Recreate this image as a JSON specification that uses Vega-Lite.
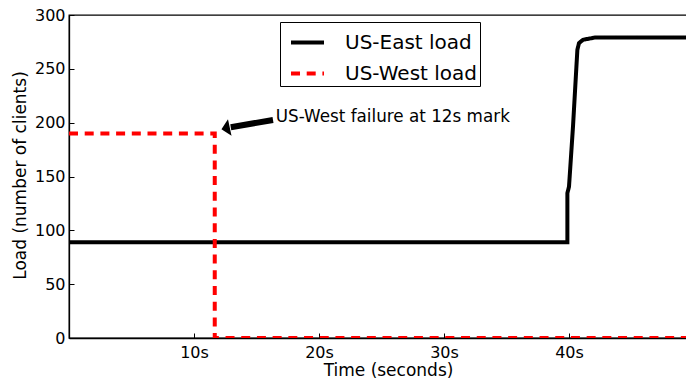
{
  "$schema": "https://vega.github.io/schema/vega-lite/v6.json",
  "width": 618,
  "height": 323,
  "autosize": "none",
  "padding": {"left": 69, "top": 15, "right": 0, "bottom": 43},
  "background": "white",
  "config": {
    "font": "DejaVu Sans",
    "view": {"stroke": "black", "strokeWidth": 1.3},
    "axis": {
      "grid": false,
      "domainColor": "black",
      "domainWidth": 1.3,
      "tickColor": "black",
      "tickSize": -5,
      "tickWidth": 1,
      "labelColor": "black",
      "labelFontSize": 16,
      "labelFont": "DejaVu Sans",
      "titleColor": "black",
      "titleFontSize": 17,
      "titleFontWeight": "normal",
      "titleFont": "DejaVu Sans",
      "zindex": 1
    }
  },
  "datasets": {
    "series": [
      {"series": "US-East load", "i": 0, "time": 0, "load": 89},
      {"series": "US-East load", "i": 1, "time": 39.87, "load": 89},
      {"series": "US-East load", "i": 2, "time": 39.87, "load": 134.5},
      {"series": "US-East load", "i": 3, "time": 40.0, "load": 140.6},
      {"series": "US-East load", "i": 4, "time": 40.32, "load": 196.4},
      {"series": "US-East load", "i": 5, "time": 40.67, "load": 267.7},
      {"series": "US-East load", "i": 6, "time": 40.8, "load": 273.9},
      {"series": "US-East load", "i": 7, "time": 41.12, "load": 277},
      {"series": "US-East load", "i": 8, "time": 42.05, "load": 279},
      {"series": "US-East load", "i": 9, "time": 50, "load": 279},
      {"series": "US-West load", "i": 0, "time": 0, "load": 190},
      {"series": "US-West load", "i": 1, "time": 11.66, "load": 190},
      {"series": "US-West load", "i": 2, "time": 11.66, "load": 0},
      {"series": "US-West load", "i": 3, "time": 50, "load": 0}
    ],
    "note": [{"x": 16.54, "y": 201, "text": "US-West failure at 12s mark"}],
    "arrow": [{"x": 16.32, "y": 202.5, "x2": 12.94, "y2": 195.8}],
    "head": [{"x": 12.86, "y": 195.5}]
  },
  "layer": [
    {
      "data": {"name": "series"},
      "mark": {"type": "line", "strokeWidth": 4, "clip": true, "strokeCap": "butt", "strokeJoin": "miter"},
      "encoding": {
        "x": {
          "field": "time", "type": "quantitative",
          "scale": {"domain": [0, 49.44], "nice": false, "zero": false},
          "axis": {"values": [10, 20, 30, 40], "labelExpr": "datum.value + 's'", "labelPadding": 11, "titleBaseline": "alphabetic", "titleX": 319, "titleY": 37.7},
          "title": "Time (seconds)"
        },
        "y": {
          "field": "load", "type": "quantitative",
          "scale": {"domain": [0, 300], "nice": false},
          "axis": {"values": [0, 50, 100, 150, 200, 250, 300], "labelPadding": 9, "titleBaseline": "alphabetic", "titleX": -43.6, "titleY": 160, "titleAngle": -90, "titleAlign": "center"},
          "title": "Load (number of clients)"
        },
        "color": {
          "field": "series", "type": "nominal",
          "scale": {"domain": ["US-East load", "US-West load"], "range": ["black", "red"]},
          "legend": {"title": null, "orient": "none", "legendX": 211, "legendY": 7, "direction": "vertical", "symbolType": "stroke", "symbolSize": 1089, "symbolStrokeWidth": 4, "labelFontSize": 20, "labelOffset": 19, "padding": 2, "symbolOffset": 7, "strokeColor": "black", "fillColor": "white", "rowPadding": 2, "labelColor": "black", "labelFont": "DejaVu Sans"}
        },
        "strokeDash": {
          "field": "series", "type": "nominal",
          "scale": {"domain": ["US-East load", "US-West load"], "range": [[1, 0], [9, 6.7]]},
          "legend": {"title": null, "orient": "none", "legendX": 211, "legendY": 7, "direction": "vertical", "symbolType": "stroke", "symbolSize": 1089, "symbolStrokeWidth": 4, "labelFontSize": 20, "labelOffset": 19, "padding": 2, "symbolOffset": 7, "strokeColor": "black", "fillColor": "white", "rowPadding": 2, "labelColor": "black", "labelFont": "DejaVu Sans"}
        },
        "order": {"field": "i", "type": "quantitative"}
      }
    },
    {
      "data": {"name": "arrow"},
      "mark": {"type": "rule", "strokeWidth": 6, "color": "black", "strokeCap": "butt"},
      "encoding": {
        "x": {"field": "x", "type": "quantitative"},
        "y": {"field": "y", "type": "quantitative"},
        "x2": {"field": "x2"},
        "y2": {"field": "y2"}
      }
    },
    {
      "data": {"name": "head"},
      "mark": {"type": "point", "shape": "M -1 0 L 0 -1 L 0 1 Z", "filled": true, "color": "black", "opacity": 1, "size": 289, "angle": -12},
      "encoding": {
        "x": {"field": "x", "type": "quantitative"},
        "y": {"field": "y", "type": "quantitative"}
      }
    },
    {
      "data": {"name": "note"},
      "mark": {"type": "text", "align": "left", "baseline": "alphabetic", "fontSize": 16.8, "font": "DejaVu Sans", "color": "black"},
      "encoding": {
        "x": {"field": "x", "type": "quantitative"},
        "y": {"field": "y", "type": "quantitative"},
        "text": {"field": "text"}
      }
    }
  ]
}
